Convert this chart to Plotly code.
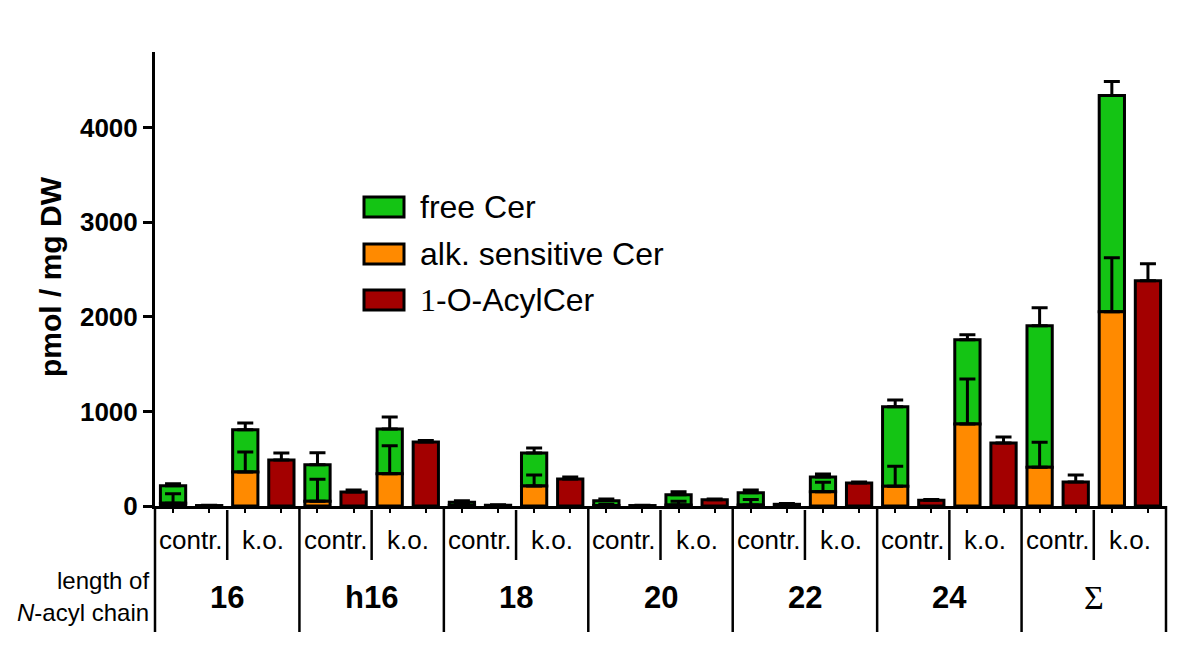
import plotly.graph_objects as go

# ---------------- data ----------------
groups = ["16", "h16", "18", "20", "22", "24", "Σ"]
conditions = ["contr.", "k.o."]

alk_contr = [30, 50, 5, 5, 10, 210, 410]
free_contr = [185, 385, 35, 50, 130, 840, 1495]
acyl_contr = [5, 148, 8, 5, 18, 60, 254]

alk_ko = [360, 340, 212, 10, 151, 868, 2053]
free_ko = [445, 475, 349, 110, 156, 889, 2286]
acyl_ko = [487, 677, 286, 65, 243, 667, 2381]

alk_contr_err = [100, 233, 10, 10, 60, 211, 264]
free_contr_err = [20, 127, 15, 20, 30, 72, 190]
acyl_contr_err = [3, 20, 5, 3, 8, 10, 74]

alk_ko_err = [210, 296, 116, 40, 100, 476, 571]
free_ko_err = [73, 127, 53, 30, 32, 53, 148]
acyl_ko_err = [74, 15, 20, 8, 10, 63, 180]

legend_names = ["free Cer", "alk. sensitive Cer", "1-O-AcylCer"]

# ---------------- styling ----------------
GREEN = "#14c414"
ORANGE = "#ff8a00"
RED = "#a30000"
SANS = "Liberation Sans, Arial, Helvetica, sans-serif"
SERIF = "Liberation Serif, Times New Roman, serif"

n = len(groups)


def inter(a, b):
    out = []
    for i in range(n):
        out += [a[i], b[i]]
    return out


x_stack = [4 * i + 2 * j for i in range(n) for j in range(2)]
x_acyl = [4 * i + 2 * j + 1 for i in range(n) for j in range(2)]

alk = inter(alk_contr, alk_ko)
free = inter(free_contr, free_ko)
acyl = inter(acyl_contr, acyl_ko)
alk_err = inter(alk_contr_err, alk_ko_err)
free_err = inter(free_contr_err, free_ko_err)
acyl_err = inter(acyl_contr_err, acyl_ko_err)


def err(arr):
    return dict(type="data", array=arr, arrayminus=[0] * len(arr), symmetric=False,
                color="black", thickness=3, width=8)


line = dict(color="black", width=3)
BW = 0.7

fig = go.Figure()
fig.add_trace(go.Bar(x=x_stack, y=free, base=alk, name=legend_names[0], width=BW,
                     marker=dict(color=GREEN, line=line), error_y=err(free_err)))
fig.add_trace(go.Bar(x=x_stack, y=alk, name=legend_names[1], width=BW,
                     marker=dict(color=ORANGE, line=line), error_y=err(alk_err)))
fig.add_trace(go.Bar(x=x_acyl, y=acyl, name=legend_names[2], width=BW,
                     marker=dict(color=RED, line=line), error_y=err(acyl_err)))

# ---------------- layout ----------------
# page has an 8px body margin; plot area on screen: x 155..1166, y 52..506
OFF = 8
W, H = 1201 - OFF, 652 - OFF
SX0, SX1, SY0, SY1 = 155, 1166, 52, 506
L, T = SX0 - OFF, SY0 - OFF
R, B = W - (SX1 - OFF), H - (SY1 - OFF)
PW, PH = SX1 - SX0, SY1 - SY0
NPOS = 4 * n
XMIN, XMAX = -0.5, NPOS - 0.5


def px_x(p):  # screen pixel x -> paper
    return (p - SX0) / PW


def px_y(p):  # screen pixel y -> paper
    return (SY1 - p) / PH


def pos_paper(pos):  # data position -> paper x
    return (pos - XMIN) / (XMAX - XMIN)


shapes = []
annotations = []

# separators under the axis
for g in range(n + 1):
    xp = pos_paper(4 * g - 0.5)
    shapes.append(dict(type="line", xref="paper", yref="paper", x0=xp, x1=xp,
                       y0=0, y1=px_y(632), line=dict(color="black", width=2.5)))
for g in range(n):
    xp = pos_paper(4 * g + 1.5)
    shapes.append(dict(type="line", xref="paper", yref="paper", x0=xp, x1=xp,
                       y0=px_y(510), y1=px_y(560), line=dict(color="black", width=2.5)))

for g, name in enumerate(groups):
    for j, cond in enumerate(conditions):
        annotations.append(dict(x=4 * g + 2 * j + 0.5, xref="x", y=px_y(540), yref="paper",
                                text=cond, showarrow=False, xanchor="center", yanchor="middle",
                                font=dict(family=SANS, size=26, color="black")))
    if name == "Σ":
        gtext, gfont = name, dict(family=SERIF, size=34, color="black")
    else:
        gtext, gfont = "<b>%s</b>" % name, dict(family=SANS, size=31, color="black")
    annotations.append(dict(x=4 * g + 1.5, xref="x", y=px_y(597), yref="paper",
                            text=gtext, showarrow=False, xanchor="center", yanchor="middle",
                            font=gfont))

annotations.append(dict(x=px_x(151), y=px_y(580), xref="paper", yref="paper",
                        text="length of", showarrow=False, xanchor="right", yanchor="middle",
                        font=dict(family=SANS, size=24, color="black")))
annotations.append(dict(x=px_x(151), y=px_y(612), xref="paper", yref="paper",
                        text="<i>N</i>-acyl chain", showarrow=False, xanchor="right",
                        yanchor="middle", font=dict(family=SANS, size=24, color="black")))

# y axis title
annotations.append(dict(x=px_x(50), y=px_y(277), xref="paper", yref="paper",
                        text="<b>pmol / mg DW</b>", textangle=-90, showarrow=False,
                        xanchor="center", yanchor="middle",
                        font=dict(family=SANS, size=30, color="black")))

# legend (drawn manually for large swatches)
leg_colors = [GREEN, ORANGE, RED]
leg_texts = ["free Cer", "alk. sensitive Cer",
             "<span style='font-family:Liberation Serif, Times New Roman, serif'>1</span>-O-AcylCer"]
for k, yc in enumerate([207, 254, 300]):
    shapes.append(dict(type="rect", xref="paper", yref="paper",
                       x0=px_x(364), x1=px_x(404), y0=px_y(yc + 10), y1=px_y(yc - 10),
                       fillcolor=leg_colors[k], line=dict(color="black", width=3)))
    annotations.append(dict(x=px_x(418), y=px_y(yc), xref="paper", yref="paper",
                            text=leg_texts[k], showarrow=False, xanchor="left", yanchor="middle",
                            font=dict(family=SANS, size=32, color="black")))

fig.update_layout(
    width=W, height=H,
    margin=dict(l=L, r=R, t=T, b=B, pad=0),
    paper_bgcolor="white", plot_bgcolor="white",
    barmode="overlay",
    showlegend=False,
    shapes=shapes,
    annotations=annotations,
    xaxis=dict(range=[XMIN, XMAX], showgrid=False, zeroline=False,
               showline=True, linecolor="black", linewidth=3,
               ticks="outside", ticklen=4, tickwidth=2, tickcolor="black",
               tickvals=list(range(NPOS)), showticklabels=False),
    yaxis=dict(range=[0, 4800], showgrid=False, zeroline=False,
               showline=True, linecolor="black", linewidth=3,
               ticks="outside", ticklen=9, tickwidth=2.5, tickcolor="black",
               tickvals=[0, 1000, 2000, 3000, 4000],
               ticktext=["<b>%d</b>" % v for v in [0, 1000, 2000, 3000, 4000]],
               tickfont=dict(family=SANS, size=26, color="black")),
)

fig.write_html("out.html")
